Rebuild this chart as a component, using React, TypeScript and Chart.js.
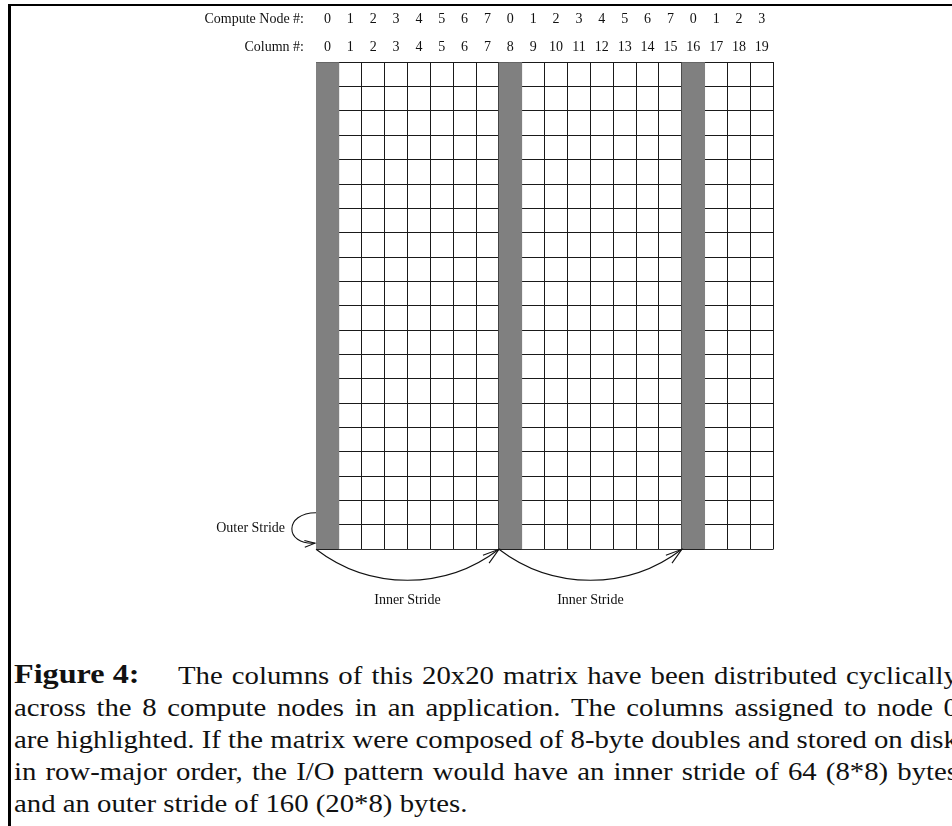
import React, { useEffect, useRef } from "react";
import { Chart, registerables } from "chart.js";

Chart.register(...registerables);

// ---- data ----
const columnLabels = ["0", "1", "2", "3", "4", "5", "6", "7", "8", "9", "10", "11", "12", "13", "14", "15", "16", "17", "18", "19"];
const nodeLabels = ["0", "1", "2", "3", "4", "5", "6", "7", "0", "1", "2", "3", "4", "5", "6", "7", "0", "1", "2", "3"];
const rowCount = 20;
const highlightedRows = [20, 0, 0, 0, 0, 0, 0, 0, 20, 0, 0, 0, 0, 0, 0, 0, 20, 0, 0, 0];
const headerLabels = ["Compute Node #:", "Column #:"];
const innerStrideFrom = [0, 8];
const innerStrideTo = [8, 16];
const innerStrideLabel = "Inner Stride";
const outerStrideRows = [1.5, 0.25];
const outerStrideLabel = "Outer Stride";
const figureLabel = "Figure 4:";
const captionLines = [
  "The columns of this 20x20 matrix have been distributed cyclically",
  "across the 8 compute nodes in an application. The columns assigned to node 0",
  "are highlighted. If the matrix were composed of 8-byte doubles and stored on disk",
  "in row-major order, the I/O pattern would have an inner stride of 64 (8*8) bytes",
  "and an outer stride of 160 (20*8) bytes.",
];

const LABEL_FONT = '14px "Liberation Serif"';
const INK = "#111";

function arrowHead(ctx: CanvasRenderingContext2D, tx: number, ty: number, ang: number, len: number, spread: number) {
  ctx.beginPath();
  ctx.moveTo(tx - len * Math.cos(ang - spread), ty - len * Math.sin(ang - spread));
  ctx.lineTo(tx, ty);
  ctx.lineTo(tx - len * Math.cos(ang + spread), ty - len * Math.sin(ang + spread));
  ctx.stroke();
}

const overlayPlugin = {
  id: "overlay",
  afterDraw(chart: any) {
    const ctx: CanvasRenderingContext2D = chart.ctx;
    const xs = chart.scales.x;
    const x2 = chart.scales.x2;
    const ys = chart.scales.y;
    const area = chart.chartArea;
    const colW = xs.getPixelForValue(1) - xs.getPixelForValue(0);
    const leftOf = (i: number) => xs.getPixelForValue(i) - colW / 2;
    const lh = 14 * 1.2;
    ctx.save();
    ctx.font = LABEL_FONT;
    ctx.fillStyle = INK;
    ctx.strokeStyle = INK;
    ctx.lineWidth = 1.1;
    ctx.textAlign = "right";
    ctx.textBaseline = "middle";
    ctx.fillText(headerLabels[0], area.left - 12, x2.bottom - x2.options.ticks.padding - lh / 2);
    ctx.fillText(headerLabels[1], area.left - 12, xs.bottom - xs.options.ticks.padding - lh / 2);

    const y0 = ys.getPixelForValue(0);
    const sag = 31;
    for (let k = 0; k < innerStrideFrom.length; k++) {
      const a = leftOf(innerStrideFrom[k]);
      const b = leftOf(innerStrideTo[k]);
      const half = (b - a) / 2;
      const R = (half * half + sag * sag) / (2 * sag);
      const cx = a + half;
      const cy = y0 + sag - R;
      const sa = Math.atan2(y0 - cy, a - cx);
      const ea = Math.atan2(y0 - cy, b - cx);
      ctx.beginPath();
      ctx.arc(cx, cy, R, sa, ea, true);
      ctx.stroke();
      const dir = Math.atan2(-Math.cos(ea), Math.sin(ea));
      arrowHead(ctx, b, y0, dir, 17, 0.3);
      ctx.textAlign = "center";
      ctx.fillText(innerStrideLabel, cx, y0 + 51);
    }

    const L = leftOf(0);
    const ya = ys.getPixelForValue(outerStrideRows[0]);
    const yb = ys.getPixelForValue(outerStrideRows[1]);
    ctx.beginPath();
    ctx.moveTo(L, ya);
    ctx.bezierCurveTo(L - 32, ya, L - 32, yb + 2, L - 1, yb);
    ctx.stroke();
    arrowHead(ctx, L - 1, yb, Math.atan2(-2, 31), 11, 0.32);
    ctx.textAlign = "right";
    ctx.fillText(outerStrideLabel, L - 31, (ya + yb) / 2);
    ctx.restore();
  },
};

const CAP_SCALE = 1.15;
const CAP_RIGHT = 958;

function JustifiedLine({ text, left, top }: { text: string; left: number; top: number }) {
  const words = text.split(" ");
  return (
    <div
      style={{
        position: "absolute",
        left,
        top,
        width: (CAP_RIGHT - left) / CAP_SCALE,
        transform: `scaleX(${CAP_SCALE})`,
        transformOrigin: "0 0",
        display: "flex",
        justifyContent: "space-between",
        alignItems: "baseline",
        fontFamily: '"Liberation Serif"',
        fontSize: 25,
        lineHeight: "30px",
        color: INK,
      }}
    >
      {words.map((w, j) => (
        <span key={j} style={{ whiteSpace: "pre", flexShrink: 0 }}>
          {j < words.length - 1 ? w + " " : w}
        </span>
      ))}
    </div>
  );
}

export default function App() {
  const ref = useRef<HTMLCanvasElement>(null);
  useEffect(() => {
    const canvas = ref.current;
    if (!canvas) return;
    const tickFont = { family: "Liberation Serif", size: 14 };
    const chart = new Chart(canvas, {
      type: "bar",
      data: {
        labels: columnLabels,
        datasets: [
          {
            data: highlightedRows,
            backgroundColor: "#808080",
            borderWidth: 0,
            barPercentage: 1,
            categoryPercentage: 1,
            xAxisID: "x",
            yAxisID: "y",
          },
        ],
      },
      options: {
        responsive: false,
        animation: false,
        events: [],
        layout: { padding: { left: 316, right: 178.7, top: 0, bottom: 70.7 } },
        plugins: { legend: { display: false }, tooltip: { enabled: false }, title: { display: false } },
        scales: {
          x: {
            type: "category",
            position: "top",
            weight: 0,
            offset: true,
            z: 1,
            grid: { offset: true, drawTicks: false, color: "#1a1a1a", lineWidth: 1 },
            border: { display: true, color: "#1a1a1a", width: 1 },
            ticks: { font: tickFont, color: INK, padding: 7, maxRotation: 0, autoSkip: false },
            afterFit: (s: any) => {
              s.height = 27.8;
            },
          },
          x2: {
            type: "category",
            labels: nodeLabels,
            position: "top",
            weight: 1,
            offset: true,
            grid: { display: false, drawTicks: false },
            border: { display: false },
            ticks: { font: tickFont, color: INK, padding: 7, maxRotation: 0, autoSkip: false },
            afterFit: (s: any) => {
              s.height = 34.5;
            },
          },
          y: {
            type: "linear",
            min: 0,
            max: rowCount,
            z: 1,
            ticks: { display: false, stepSize: 1 },
            grid: { drawTicks: false, color: "#1a1a1a", lineWidth: 1 },
            border: { display: true, color: "#1a1a1a", width: 1 },
            afterFit: (s: any) => {
              s.width = 0;
            },
          },
        },
      } as any,
      plugins: [overlayPlugin],
    });
    return () => chart.destroy();
  }, []);

  const firstTop = 661;
  const step = 32;
  return (
    <div style={{ position: "absolute", left: 0, top: 0, width: 952, height: 826, overflow: "hidden", background: "#fff" }}>
      <div style={{ position: "absolute", left: 8, top: 4, width: 944, height: 2, background: "#000" }} />
      <div style={{ position: "absolute", left: 8, top: 4, width: 3, height: 822, background: "#000" }} />
      <canvas ref={ref} width={952} height={620} style={{ position: "absolute", left: 0, top: 0, width: 952, height: 620 }} />
      <div
        style={{
          position: "absolute",
          left: 14,
          top: firstTop - 2,
          transform: `scaleX(${CAP_SCALE})`,
          transformOrigin: "0 0",
          fontFamily: '"Liberation Serif"',
          fontWeight: "bold",
          fontSize: 28,
          lineHeight: "30px",
          whiteSpace: "pre",
          color: INK,
        }}
      >
        {figureLabel}
      </div>
      {captionLines.slice(0, captionLines.length - 1).map((line, i) => (
        <JustifiedLine key={i} text={line} left={i === 0 ? 178 : 14} top={firstTop + i * step} />
      ))}
      <div
        style={{
          position: "absolute",
          left: 14,
          top: firstTop + (captionLines.length - 1) * step,
          transform: `scaleX(${CAP_SCALE})`,
          transformOrigin: "0 0",
          fontFamily: '"Liberation Serif"',
          fontSize: 25,
          lineHeight: "30px",
          whiteSpace: "pre",
          color: INK,
        }}
      >
        {captionLines[captionLines.length - 1]}
      </div>
    </div>
  );
}
